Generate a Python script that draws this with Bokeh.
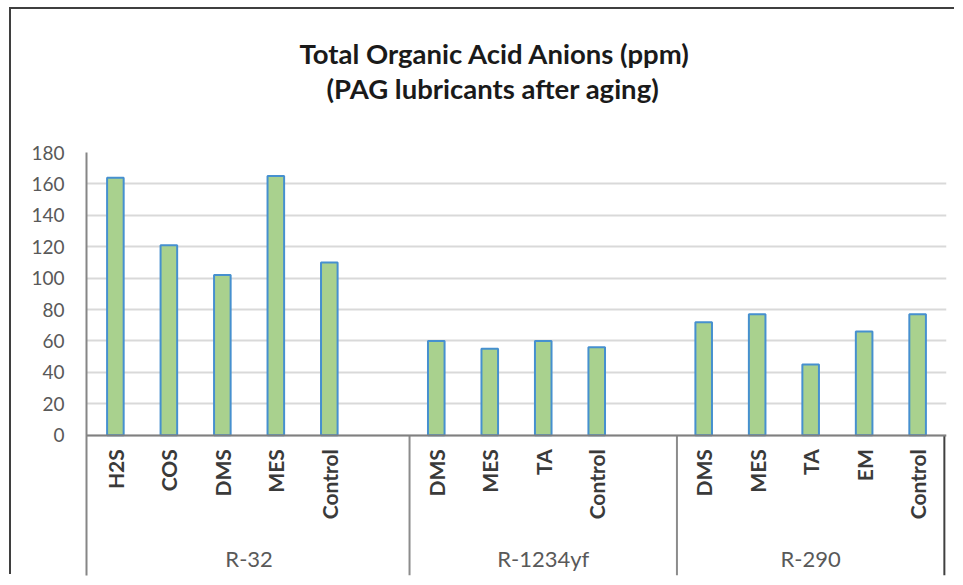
import math
from bokeh.plotting import figure
from bokeh.models import FactorRange, Range1d, FixedTicker, ColumnDataSource, Title
from bokeh.core.properties import value
from bokeh.embed import file_html
from bokeh.resources import INLINE

# ---------------- data ----------------
title_lines = ["Total Organic Acid Anions (ppm)", "(PAG lubricants after aging)"]
groups = ["R-32", "R-1234yf", "R-290"]
r32_names = ["H2S", "COS", "DMS", "MES", "Control"]
r32_values = [164, 121, 102, 165, 110]
r1234yf_names = ["DMS", "MES", "TA", "Control"]
r1234yf_values = [60, 55, 60, 56]
r290_names = ["DMS", "MES", "TA", "EM", "Control"]
r290_values = [72, 77, 45, 66, 77]
blank_slots = [1, 1, 0]  # empty category rows at the end of each group in the source sheet
y_ticks = [0, 20, 40, 60, 80, 100, 120, 140, 160, 180]

names_by_group = [r32_names, r1234yf_names, r290_names]
values_by_group = [r32_values, r1234yf_values, r290_values]

# ---------------- build factors ----------------
bar_x, bar_top, range_factors, group_ends = [], [], [], []
for g, names, vals, nb in zip(groups, names_by_group, values_by_group, blank_slots):
    for n, v in zip(names, vals):
        bar_x.append((g, n))
        bar_top.append(v)
        range_factors.append((g, n))
    for k in range(nb):
        range_factors.append((g, " " * (k + 1)))
    last = range_factors[-1]
    group_ends.append([last[0], last[1], 0.5])

FONT = "Lato"
Y_MIN = -89.3
GROUP_LABEL_Y = -78.4

p = figure(
    width=945, height=567,
    x_range=FactorRange(*range_factors, factor_padding=0, subgroup_padding=0,
                        group_padding=0, range_padding=0.04,
                        range_padding_units="absolute"),
    y_range=Range1d(Y_MIN, y_ticks[-1]),
    output_backend="svg", toolbar_location=None,
    min_border_left=75, min_border_right=10, min_border_top=143, min_border_bottom=1,
)
p.outline_line_color = None
p.background_fill_color = "white"
p.border_fill_color = "white"
p.styles = {"position": "relative", "left": "11px", "top": "9px",
            "width": "945px", "height": "567px",
            "box-shadow": "-2px -2px 0 0 #3f3f3f"}

# title: spacer closest to the frame, then line 2, then line 1
p.add_layout(Title(text=" ", text_font_size="1px", standoff=44), "above")
title_offsets = [213, 240]
title_standoffs = [0, 1]
for txt, off, so in reversed(list(zip(title_lines, title_offsets, title_standoffs))):
    p.add_layout(Title(text=txt, align="left", offset=off, standoff=so,
                       text_font=FONT, text_font_size="27.5px",
                       text_font_style="bold", text_color="#1a1a1a"), "above")

# grid
p.xgrid.grid_line_color = None
p.ygrid.ticker = FixedTicker(ticks=y_ticks)
p.ygrid.grid_line_color = "#D9D9D9"
p.ygrid.grid_line_width = 2

# y axis
p.yaxis.ticker = FixedTicker(ticks=y_ticks)
p.yaxis.axis_line_color = "#868686"
p.yaxis.axis_line_width = 2
p.yaxis.major_tick_line_color = None
p.yaxis.minor_tick_line_color = None
p.yaxis.major_tick_out = 0
p.yaxis.major_label_standoff = 22
p.yaxis.major_label_text_font = FONT
p.yaxis.major_label_text_font_size = "19px"
p.yaxis.major_label_text_color = "#595959"

# x axis (nested categorical, anchored at y=0)
xa = p.xaxis[0]
xa.fixed_location = 0
xa.axis_line_color = "#808080"
xa.axis_line_width = 2
xa.major_tick_line_color = None
xa.major_tick_out = 0
xa.major_label_orientation = math.pi / 2
xa.major_label_standoff = 14
xa.major_label_text_font = FONT
xa.major_label_text_font_size = "21px"
xa.major_label_text_font_style = "bold"
xa.major_label_text_color = "#3a3a3a"
xa.group_text_color = None
xa.separator_line_color = None

# bars
p.vbar(x=bar_x, top=bar_top, width=0.31, fill_color="#A9D18E",
       line_color="#4690CF", line_width=2)

# group separators below the axis
sep_src = ColumnDataSource(dict(
    x=group_ends,
    color=["#8C8C8C"] * (len(groups) - 1) + ["#404040"],
))
p.segment(x0="x", y0=0, x1="x", y1=Y_MIN, line_color="color", line_width=2, source=sep_src)

# group labels
grp_src = ColumnDataSource(dict(x=groups, y=[GROUP_LABEL_Y] * len(groups), t=groups))
p.text(x="x", y="y", text="t", source=grp_src, text_align="center",
       text_baseline="middle", text_font=value(FONT), text_font_size="22px",
       text_color="#595959")

open("out.html", "w").write(file_html(p, INLINE))
